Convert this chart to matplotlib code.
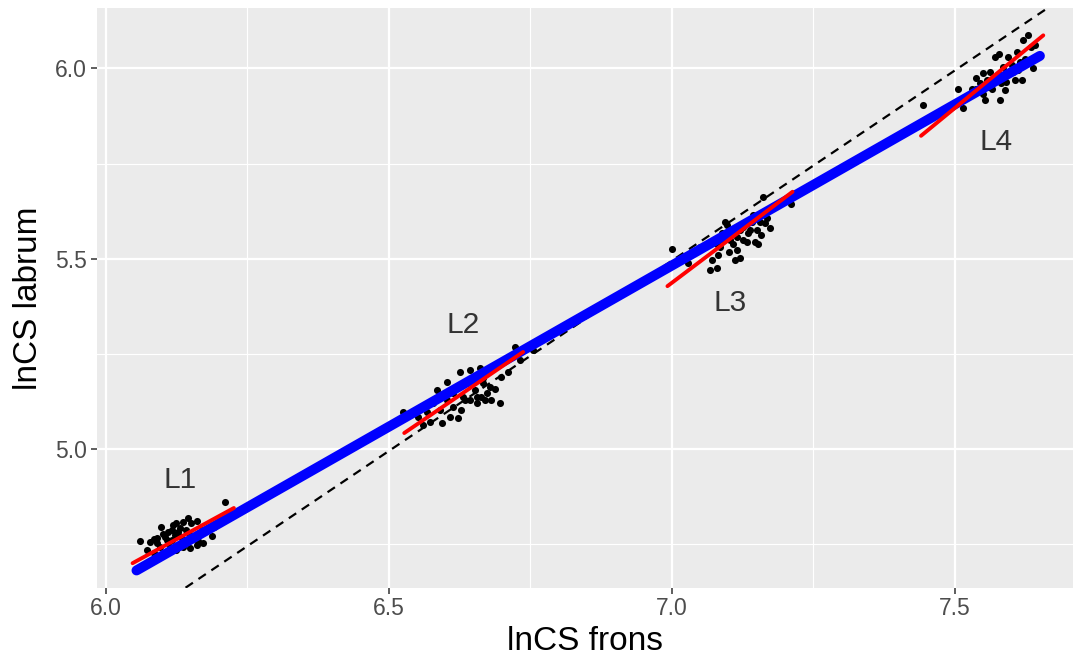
import numpy as np
import matplotlib
matplotlib.use('Agg')
import matplotlib.pyplot as plt

plt.rcParams['font.family'] = ['Liberation Sans', 'DejaVu Sans']

# Points (lnCS frons, lnCS labrum), one group per instar
l1_x = [6.060, 6.078, 6.084, 6.090, 6.098, 6.104, 6.110, 6.116, 6.118, 6.124,
        6.130, 6.136, 6.145, 6.151, 6.160, 6.142, 6.148, 6.154, 6.163, 6.172,
        6.187, 6.210, 6.072, 6.084, 6.096, 6.113, 6.124, 6.136, 6.148, 6.160,
        6.090, 6.107, 6.122, 6.133, 6.169, 6.190, 6.101, 6.127, 6.116]
l1_y = [4.759, 4.756, 4.763, 4.765, 4.796, 4.768, 4.783, 4.787, 4.800, 4.805,
        4.792, 4.809, 4.818, 4.806, 4.812, 4.787, 4.774, 4.765, 4.759, 4.754,
        4.771, 4.862, 4.735, 4.726, 4.743, 4.743, 4.735, 4.743, 4.739, 4.748,
        4.752, 4.761, 4.774, 4.770, 4.787, 4.794, 4.778, 4.783, 4.761]

l2_x = [6.524, 6.552, 6.561, 6.572, 6.584, 6.593, 6.602, 6.608, 6.622, 6.625,
        6.628, 6.634, 6.643, 6.652, 6.655, 6.661, 6.663, 6.667, 6.673, 6.678,
        6.680, 6.687, 6.696, 6.698, 6.711, 6.723, 6.731, 6.755, 6.602, 6.614,
        6.620, 6.637, 6.646, 6.658, 6.667, 6.631, 6.643, 6.655, 6.670, 6.614,
        6.590, 6.578, 6.567]
l2_y = [5.098, 5.085, 5.063, 5.072, 5.155, 5.068, 5.177, 5.085, 5.081, 5.203,
        5.102, 5.129, 5.208, 5.155, 5.120, 5.212, 5.137, 5.173, 5.146, 5.164,
        5.129, 5.159, 5.120, 5.190, 5.203, 5.269, 5.234, 5.260, 5.129, 5.146,
        5.164, 5.173, 5.181, 5.186, 5.186, 5.137, 5.129, 5.137, 5.129, 5.111,
        5.102, 5.120, 5.098]

l3_x = [7.000, 7.029, 7.038, 7.049, 7.067, 7.070, 7.079, 7.082, 7.085, 7.088,
        7.094, 7.097, 7.102, 7.108, 7.111, 7.114, 7.120, 7.126, 7.132, 7.135,
        7.138, 7.144, 7.147, 7.152, 7.155, 7.158, 7.164, 7.167, 7.173, 7.211,
        7.161, 7.091, 7.102, 7.120, 7.126, 7.150, 7.079, 7.100, 7.114, 7.141]
l3_y = [5.525, 5.488, 5.518, 5.532, 5.470, 5.497, 5.475, 5.510, 5.532, 5.567,
        5.597, 5.589, 5.575, 5.540, 5.497, 5.523, 5.501, 5.549, 5.545, 5.567,
        5.575, 5.615, 5.545, 5.540, 5.597, 5.562, 5.593, 5.606, 5.580, 5.644,
        5.663, 5.549, 5.549, 5.575, 5.584, 5.575, 5.540, 5.518, 5.558, 5.597]

l4_x = [7.443, 7.506, 7.515, 7.530, 7.538, 7.544, 7.550, 7.553, 7.556, 7.562,
        7.565, 7.571, 7.573, 7.577, 7.580, 7.582, 7.585, 7.588, 7.591, 7.594,
        7.600, 7.606, 7.609, 7.612, 7.618, 7.621, 7.624, 7.629, 7.635, 7.638,
        7.641, 7.550, 7.559, 7.568, 7.580, 7.603, 7.615, 7.538, 7.591]
l4_y = [5.904, 5.945, 5.895, 5.947, 5.974, 5.961, 5.987, 5.917, 5.969, 5.991,
        5.947, 6.030, 5.978, 6.039, 5.917, 5.961, 6.004, 5.943, 5.991, 6.030,
        6.009, 5.969, 6.044, 5.996, 5.969, 6.074, 6.026, 6.087, 6.057, 6.000,
        6.061, 5.934, 5.952, 5.965, 5.982, 5.991, 6.017, 5.947, 5.965]

# fitted lines, end points
overall_x = [6.054, 7.650]
overall_y = [4.681, 6.033]
group_fit_x = [[6.047, 6.226], [6.527, 6.737], [6.992, 7.213], [7.440, 7.656]]
group_fit_y = [[4.700, 4.845], [5.042, 5.255], [5.428, 5.676], [5.823, 6.087]]

# isometry line y = x + c
iso_offset = -1.505

group_names = ['L1', 'L2', 'L3', 'L4']
label_x = [6.131, 6.631, 7.102, 7.572]
label_y = [4.918, 5.326, 5.384, 5.806]

fig = plt.figure(figsize=(10.73, 6.61), dpi=100)
ax = fig.add_axes([0.0901, 0.1109, 0.9099, 0.8765])
ax.set_facecolor('#EBEBEB')

ax.axline((6.0, 6.0 + iso_offset), slope=1, color='black', lw=1.6,
          dashes=(4, 3), zorder=3)

for gx, gy in zip([l1_x, l2_x, l3_x, l4_x], [l1_y, l2_y, l3_y, l4_y]):
    ax.scatter(gx, gy, s=26, color='black', linewidths=0, zorder=4)

ax.plot(overall_x, overall_y, color='#0000FF', lw=7.2, solid_capstyle='round',
        zorder=5)
for fx, fy in zip(group_fit_x, group_fit_y):
    ax.plot(fx, fy, color='#FF0000', lw=2.8, solid_capstyle='round', zorder=6)

for name, tx, ty in zip(group_names, label_x, label_y):
    ax.text(tx, ty, name, fontsize=21.5, color='#333333', ha='center',
            va='center', zorder=7)

ax.set_xlim(5.9836, 7.7085)
ax.set_ylim(4.6356, 6.158)
ax.set_xticks([6.0, 6.5, 7.0, 7.5])
ax.set_xticklabels(['6.0', '6.5', '7.0', '7.5'])
ax.set_xticks([6.25, 6.75, 7.25], minor=True)
ax.set_yticks([5.0, 5.5, 6.0])
ax.set_yticklabels(['5.0', '5.5', '6.0'])
ax.set_yticks([4.75, 5.25, 5.75], minor=True)

ax.grid(which='major', color='white', lw=1.6)
ax.grid(which='minor', color='white', lw=0.8)
ax.set_axisbelow(True)
for s in ax.spines.values():
    s.set_visible(False)

ax.tick_params(which='major', length=4, width=1.1, color='#333333',
               labelsize=16.5, labelcolor='#4D4D4D', pad=3)
ax.tick_params(which='minor', length=0)

ax.set_xlabel('lnCS frons', fontsize=24, color='black', labelpad=4)
ax.set_ylabel('lnCS labrum', fontsize=24, color='black', labelpad=8)

fig.savefig('out.png', dpi=100)
